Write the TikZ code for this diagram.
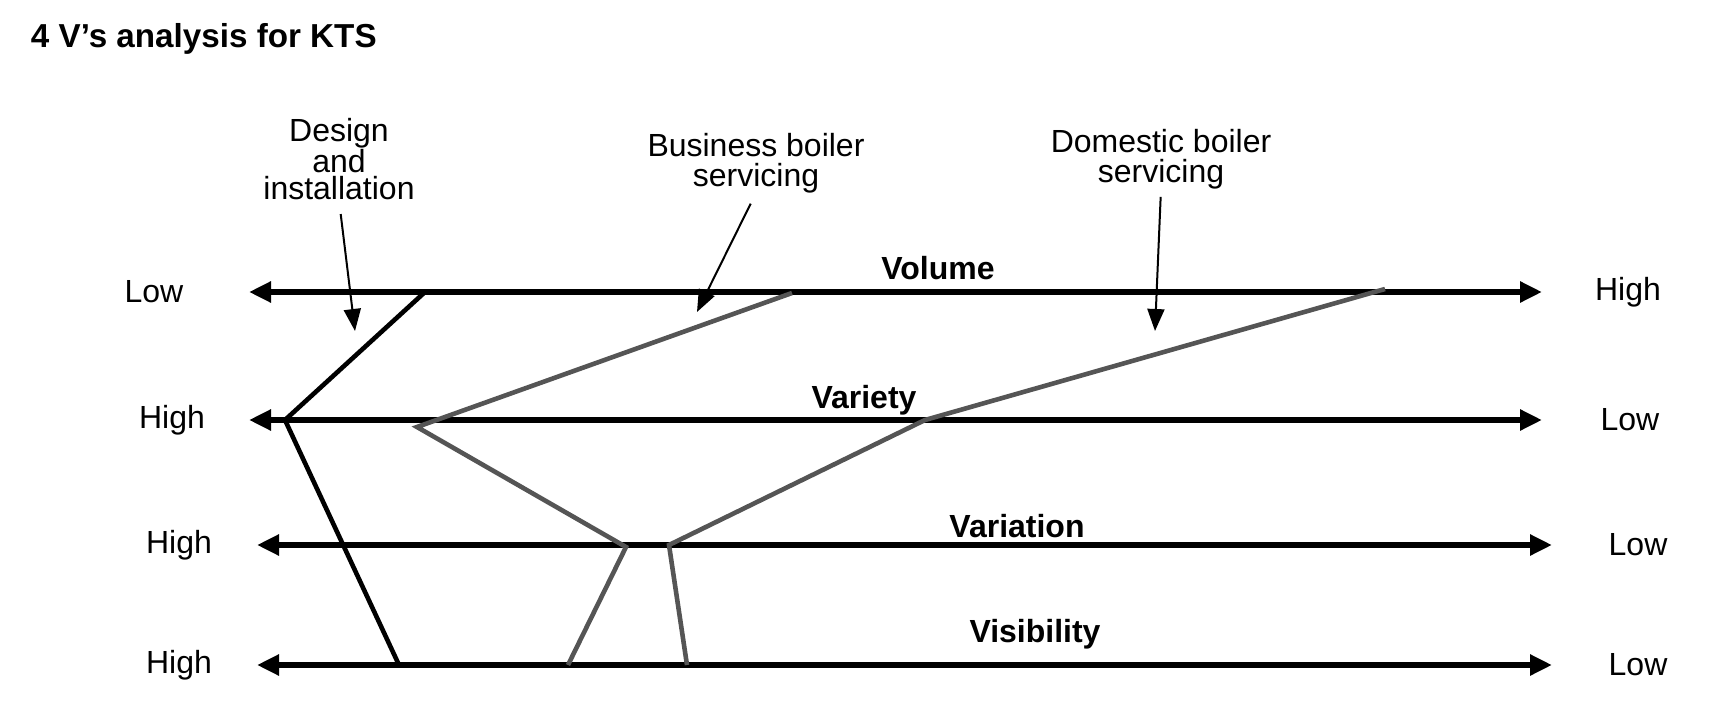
\documentclass[tikz,border=0pt]{standalone}
\usepackage{fontspec}
\setmainfont{Liberation Sans}
\usepackage{xcolor}
\usetikzlibrary{arrows.meta}
\tikzset{axis/.style = {line width=3.2pt, {Triangle[length=11pt,width=10pt]}-{Triangle[length=11pt,width=10pt]}}}
\tikzset{pointer/.style = {line width=1pt, -{Triangle[length=11pt,width=8.5pt]}}}
\tikzset{profile/.style = {line width=2.3pt, line join=miter}}
\tikzset{lbl/.style = {inner sep=0pt, outer sep=0pt, font=\fontsize{16}{19}\selectfont}}
\tikzset{axtitle/.style = {lbl, font=\bfseries\fontsize{16}{19}\selectfont}}

\begin{document}
\begin{tikzpicture}[x=0.5pt,y=-0.5pt]
\definecolor{lineGray}{RGB}{85,85,85}
\path[use as bounding box] (0,0) rectangle (1730,706);

\node[axtitle,anchor=west,font=\bfseries\fontsize{16.6}{19}\selectfont] (title) at (31,39) {4 V’s analysis for KTS};

% the four axes
\coordinate (volL) at (249,292);
\coordinate (volR) at (1542,292);
\coordinate (varyL) at (249,420);
\coordinate (varyR) at (1542,420);
\coordinate (variL) at (257,545);
\coordinate (variR) at (1552,545);
\coordinate (visL) at (257,665);
\coordinate (visR) at (1552,665);

\draw[axis] (volL) -- (volR);
\draw[axis] (varyL) -- (varyR);
\draw[axis] (variL) -- (variR);
\draw[axis] (visL) -- (visR);

\node[axtitle] (volT) at (938,268) {Volume};
\node[axtitle] (varyT) at (864,400) {Variety};
\node[axtitle] (variT) at (1017,526) {Variation};
\node[axtitle] (visT) at (1035,634) {Visibility};

\node[lbl] (volLo) at (154,292) {Low};
\node[lbl] (volHi) at (1628,292) {High};
\node[lbl] (varyHi) at (172,420) {High};
\node[lbl] (varyLo) at (1630,420) {Low};
\node[lbl] (variHi) at (179,545) {High};
\node[lbl] (variLo) at (1638,545) {Low};
\node[lbl] (visHi) at (179,665) {High};
\node[lbl] (visLo) at (1638,665) {Low};

% profiles
\coordinate (di1) at (425,292);
\coordinate (di2) at (285,420);
\coordinate (di3) at (399,665);
\coordinate (bb1) at (792,293);
\coordinate (bb2) at (417,427);
\coordinate (bb3) at (626,547);
\coordinate (bb4) at (568,665);
\coordinate (db1) at (1385,289);
\coordinate (db2) at (925,420);
\coordinate (db3) at (669,545);
\coordinate (db4) at (687,665);

\draw[profile] (di1) -- (di2) -- (di3);
\draw[profile,lineGray] (bb1) -- (bb2) -- (bb3) -- (bb4);
\draw[profile,lineGray] (db1) -- (db2) -- (db3) -- (db4);

% annotations
\node[lbl,align=center,font=\fontsize{16}{13.5}\selectfont] (design) at (339,159) {Design\\and\\installation};
\node[lbl,align=center,font=\fontsize{16}{15}\selectfont] (business) at (756,163) {Business boiler\\servicing};
\node[lbl,align=center,font=\fontsize{16}{15}\selectfont] (domestic) at (1161,159) {Domestic boiler\\servicing};

\coordinate (diTip) at (355,331);
\coordinate (bbTip) at (697,312);
\coordinate (dbTip) at (1155,331);

\draw[pointer,shorten <=7pt] (design.south) -- (diTip);
\draw[pointer,shorten <=6pt] (business.south) -- (bbTip);
\draw[pointer,shorten <=4pt] (domestic.south) -- (dbTip);
\end{tikzpicture}
\end{document}
